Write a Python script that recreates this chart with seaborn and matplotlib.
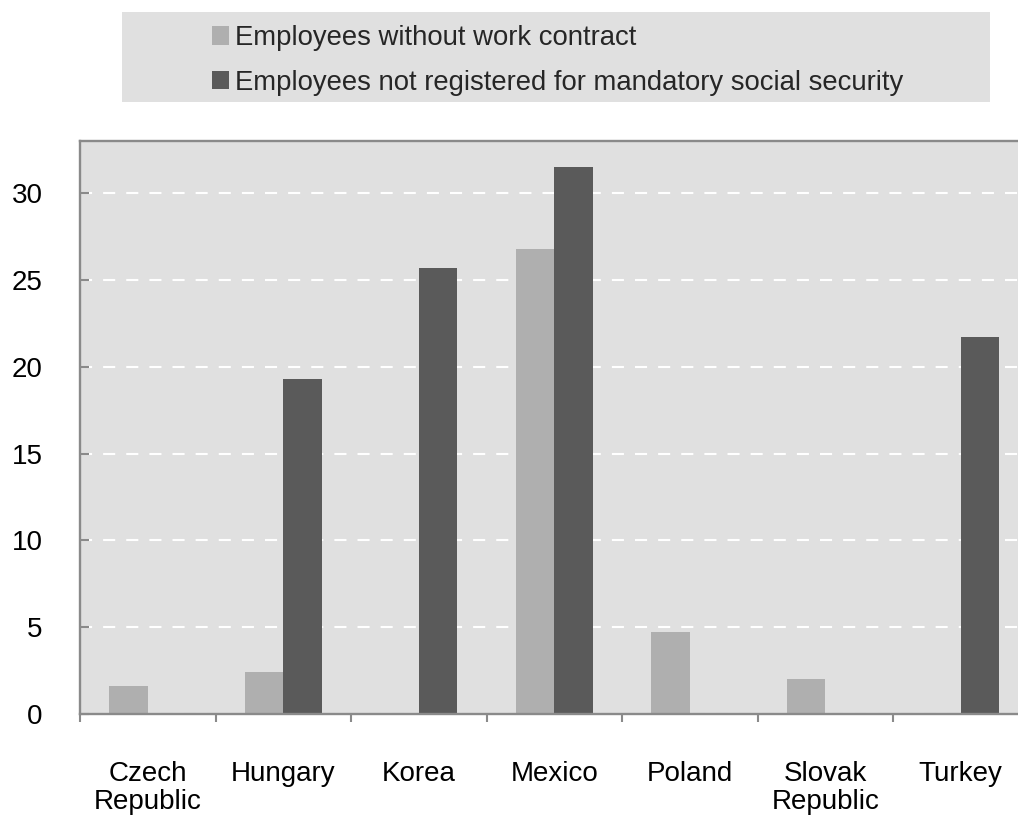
import numpy as np
import pandas as pd
import seaborn as sns
import matplotlib
matplotlib.use("Agg")
import matplotlib.pyplot as plt
from matplotlib.patches import Rectangle, Patch

# Informal employment indicators, % of employees
countries = ["Czech\nRepublic", "Hungary", "Korea", "Mexico", "Poland", "Slovak\nRepublic", "Turkey"]
no_contract = [1.6, 2.4, np.nan, 26.8, 4.7, 2.0, np.nan]
not_registered = [np.nan, 19.3, 25.7, 31.5, np.nan, np.nan, 21.7]
series_names = ["Employees without work contract",
                "Employees not registered for mandatory social security"]
y_ticks = [0, 5, 10, 15, 20, 25, 30]

LIGHT = "#afafaf"
DARK = "#5a5a5a"
PANEL = "#e0e0e0"
SPINE = "#8a8a8a"

df = pd.DataFrame({
    "country": countries * 2,
    "series": [series_names[0]] * len(countries) + [series_names[1]] * len(countries),
    "value": no_contract + not_registered,
})

sns.set_theme(style="white")
plt.rcParams["font.family"] = ["Liberation Sans", "DejaVu Sans"]

W, H = 1018, 818
fig = plt.figure(figsize=(W / 100, H / 100), dpi=100)
# plot panel extends past the right edge of the figure
ax = fig.add_axes([80 / W, 104 / H, 948.5 / W, 573 / H])

sns.barplot(data=df, x="country", y="value", hue="series", order=countries,
            hue_order=series_names, palette=[LIGHT, DARK], width=0.57,
            saturation=1, errorbar=None, legend=False, ax=ax, linewidth=0)

ax.set_facecolor(PANEL)
ax.set_xlim(-0.5, len(countries) - 0.5)
ax.set_ylim(0, 33)
ax.set_xlabel("")
ax.set_ylabel("")

ax.set_axisbelow(True)
ax.set_yticks(y_ticks)
ax.yaxis.grid(True, color="white", linewidth=1.5, linestyle=(0, (5.8, 5.3)))
ax.xaxis.grid(False)

# category separators as major ticks, names as minor tick labels
ax.set_xticks(np.arange(-0.5, len(countries), 1.0))
ax.set_xticklabels([""] * (len(countries) + 1))
ax.set_xticks(np.arange(len(countries)), minor=True)
ax.set_xticklabels(countries, minor=True, fontsize=20, color="black",
                   linespacing=1.1)
ax.tick_params(axis="x", which="major", direction="out", length=6, width=1.5,
               color=SPINE, bottom=True)
ax.tick_params(axis="x", which="minor", length=0, pad=34)
ax.tick_params(axis="y", direction="in", length=6.5, width=1.5, color=SPINE,
               left=True, pad=27, labelsize=20, labelcolor="black")

for side in ["left", "bottom", "top", "right"]:
    ax.spines[side].set_visible(True)
    ax.spines[side].set_color(SPINE)
    ax.spines[side].set_linewidth(1.7)

# legend panel
fig.patches.append(Rectangle((122 / W, 1 - 102 / H), (990 - 122) / W, 90 / H,
                             transform=fig.transFigure, facecolor=PANEL,
                             edgecolor="none", zorder=0))
handles = [Patch(facecolor=LIGHT, edgecolor="none"),
           Patch(facecolor=DARK, edgecolor="none")]
fig.legend(handles, series_names, loc="upper left",
           bbox_to_anchor=(212 / W, 1 - 25 / H), frameon=False,
           fontsize=19.8, handlelength=0.6, handleheight=0.65,
           handletextpad=0.25, labelspacing=0.69, borderpad=0,
           borderaxespad=0)

fig.savefig("out.png", dpi=100)
